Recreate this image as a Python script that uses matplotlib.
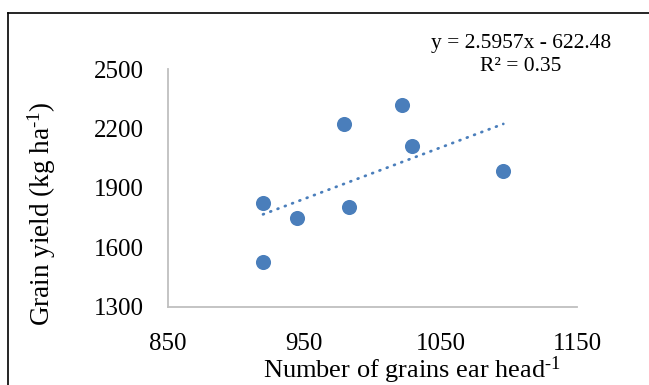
import matplotlib
matplotlib.use("Agg")
import matplotlib.pyplot as plt
from matplotlib.lines import Line2D
import numpy as np

plt.rcParams['font.family'] = ['Liberation Serif', 'DejaVu Serif']
plt.rcParams['mathtext.fontset'] = 'custom'
plt.rcParams['mathtext.rm'] = 'Liberation Serif'
plt.rcParams['mathtext.it'] = 'Liberation Serif:italic'

# Data
grains = [920, 920, 945, 979, 983, 1022, 1029, 1096]
yield_kg = [1822, 1527, 1745, 2220, 1804, 2317, 2109, 1986]
slope = 2.5957
intercept = -622.48
equation_text = "y = 2.5957x - 622.48\nR\u00b2 = 0.35"
x_ticks = [850, 950, 1050, 1150]
y_ticks = [1300, 1600, 1900, 2200, 2500]

W, H = 649, 385
fig = plt.figure(figsize=(W / 100, H / 100), dpi=100)
ax = fig.add_axes([167.5 / W, 1 - 306.5 / H, (577 - 167.5) / W, (306.5 - 69) / H])

blue = '#4a7ebb'
ax.scatter(grains, yield_kg, s=118, color=blue, zorder=3, linewidths=0)

xs = np.array([min(grains), max(grains)])
ax.plot(xs, slope * xs + intercept, color=blue, linewidth=2.0,
        linestyle=(0, (0.3, 2.5)), dash_capstyle='round', zorder=2)

ax.set_xlim(850, 1150)
ax.set_ylim(1300, 2500)
ax.set_xticks(x_ticks)
ax.set_yticks(y_ticks)
ax.tick_params(length=0, labelsize=18)
ax.tick_params(axis='y', pad=17)
ax.tick_params(axis='x', pad=19)

for s in ['top', 'right']:
    ax.spines[s].set_visible(False)
for s in ['left', 'bottom']:
    ax.spines[s].set_color('#bfbfbf')
    ax.spines[s].set_linewidth(1.3)

fig.text(42 / W, 1 - 213.5 / H, r'Grain yield (kg ha$^{\text{-1}}$)', rotation=90,
         ha='center', va='center', fontsize=19.5)
fig.text(412 / W, 1 - 370 / H, r'Number of grains ear head$^{\text{-1}}$',
         ha='center', va='center', fontsize=19)

fig.text(521 / W, 1 - 55 / H, equation_text, ha='center', va='center',
         fontsize=15.5, linespacing=1.3)

# chart frame (left and top edges visible)
fig.add_artist(Line2D([8 / W, 8 / W], [0, 1 - 12.5 / H], transform=fig.transFigure,
                      color='black', linewidth=1.2))
fig.add_artist(Line2D([8 / W, 1], [1 - 12.5 / H, 1 - 12.5 / H], transform=fig.transFigure,
                      color='black', linewidth=1.2))

fig.savefig('out.png', dpi=100)
